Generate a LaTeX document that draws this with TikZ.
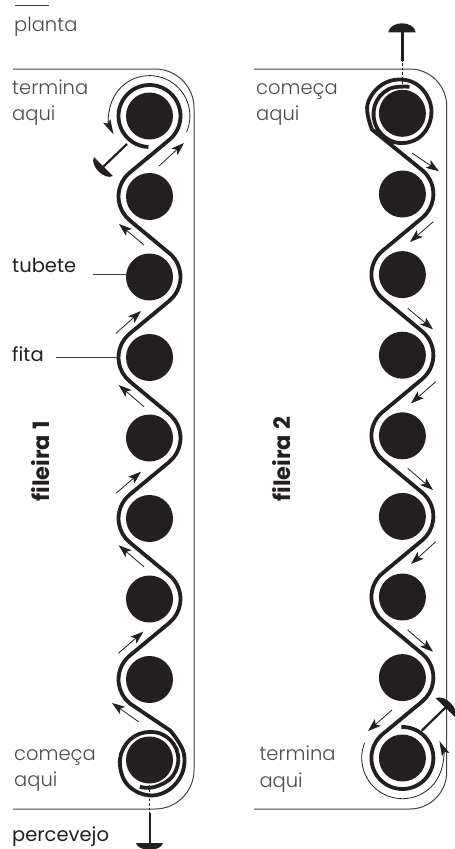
\documentclass[tikz,border=0pt]{standalone}
\usepackage{fontspec}
\setmainfont{Poppins}[UprightFont=* Light,BoldFont=* Bold]
\newfontfamily\regfont{Poppins}
\usetikzlibrary{calc,arrows.meta}
\definecolor{ink}{HTML}{231F20}
\definecolor{txt}{HTML}{4A4A4A}
\tikzset{
 tube/.style={circle,fill=ink,minimum size=47pt,inner sep=0pt},
 ribbon/.style={draw=ink,line width=3.8pt,line join=round},
 frameline/.style={draw=ink!85,line width=1pt},
 flow/.style={draw=ink,line width=0.8pt,-{Stealth[length=13pt,width=9pt,inset=3pt]}},
 turn/.style={draw=ink,line width=0.8pt,-{Stealth[length=15pt,width=8pt,inset=3pt]}},
 shaft/.style={draw=ink,line width=2.2pt},
 guide/.style={draw=ink,line width=0.7pt,dash pattern=on 2.5pt off 2pt},
 leader/.style={draw=ink!85,line width=0.8pt},
 label/.style={anchor=base west,inner sep=0pt,text=txt,font=\fontsize{19.5}{20}\selectfont},
 strong/.style={anchor=base west,inner sep=0pt,text=ink,font=\regfont\fontsize{19.5}{20}\selectfont},
 rowlabel/.style={anchor=base west,inner sep=0pt,rotate=90,text=ink,font=\bfseries\fontsize{22.5}{24}\selectfont},
}
\def\R{31}
\def\Rb#1{-- ($(#1)+(-50.4:\R)$) arc[start angle=-50.4,end angle=50.4,radius=\R]}
\def\Lb#1{-- ($(#1)+(230.4:\R)$) arc[start angle=230.4,end angle=129.6,radius=\R]}
\begin{document}
\begin{tikzpicture}[x=1pt,y=-1pt]
\clip (0,0) rectangle (455,849);
% frames
\draw[frameline] (13,69) -- (155,69) arc[start angle=-90,end angle=0,radius=39] -- (194,770) arc[start angle=0,end angle=90,radius=39] -- (13,809);
\draw[frameline] (254,69) -- (409.7,69) arc[start angle=-90,end angle=0,radius=37] -- (446.7,772) arc[start angle=0,end angle=90,radius=37] -- (254,809);
% tubes
\foreach \n/\y in {1/116,2/196.5,3/277,4/357.5,5/438,6/518.5,7/599,8/679.5,9/760}
  \node[tube] (l\n) at (149.5,\y) {};
\foreach \n/\y in {1/113.3,2/194,3/274.6,4/355.2,5/435.8,6/516.4,7/597,8/677.6,9/758}
  \node[tube] (r\n) at (402.4,\y) {};
% ribbon 1
\draw[ribbon] ($(l1)+(92:\R)$) arc[start angle=92,end angle=410.4,radius=\R]
  \Lb{l2}\Rb{l3}\Lb{l4}\Rb{l5}\Lb{l6}\Rb{l7}\Lb{l8}
  -- plot[smooth,tension=0.68] coordinates {
   ([shift={(l9)}]-55:36) ([shift={(l9)}]-10:35) ([shift={(l9)}]35:35.3)
   ([shift={(l9)}]80:35.7) ([shift={(l9)}]125:33.5) ([shift={(l9)}]170:30) ([shift={(l9)}]215:28.3)
   ([shift={(l9)}]260:28) ([shift={(l9)}]305:28.8) ([shift={(l9)}]350:29) ([shift={(l9)}]395:28.2)
   ([shift={(l9)}]440:27.5) ([shift={(l9)}]470:28.5)};
% ribbon 2
\draw[ribbon] plot[smooth,tension=0.68] coordinates {
   ([shift={(r1)}]-75:27.5) ([shift={(r1)}]-120:27.8) ([shift={(r1)}]-165:28.7) ([shift={(r1)}]-210:29.3)
   ([shift={(r1)}]-255:29.9) ([shift={(r1)}]-300:29.5) ([shift={(r1)}]-345:28.8) ([shift={(r1)}]-390:30)
   ([shift={(r1)}]-435:33) ([shift={(r1)}]-480:35) ([shift={(r1)}]-525:36) ([shift={(r1)}]-568:34.5)}
  \Rb{r2}\Lb{r3}\Rb{r4}\Lb{r5}\Rb{r6}\Lb{r7}\Rb{r8}
  -- ($(r9)+(230.4:\R)$) arc[start angle=230.4,end angle=-92,radius=\R];
% flow arrows, row 1
\draw[flow] (159,166) -- (184,143);
\draw[flow] (144,245) -- (119,224);
\draw[flow] (116,333.3) -- (141,311);
\draw[flow] (144,406.7) -- (118.7,385);
\draw[flow] (116,493.3) -- (141,471.7);
\draw[flow] (144,566.7) -- (118.7,545.3);
\draw[flow] (118.3,653.3) -- (143.3,631.7);
\draw[flow] (139,722) -- (112,703);
% flow arrows, row 2
\draw[flow] (412,153) -- (439,171.3);
\draw[flow] (433.3,221.7) -- (410,242);
\draw[flow] (407.7,308.3) -- (433,329.3);
\draw[flow] (435.7,381.7) -- (411,403.3);
\draw[flow] (407.7,468.3) -- (433,490);
\draw[flow] (435.7,541.7) -- (411,564);
\draw[flow] (407.7,630) -- (433,651.7);
\draw[flow] (392,710) -- (368,731);
% turning arrows
\draw[turn] ($(l1)+(23.5:40.4)$) arc[start angle=23.5,end angle=-207,radius=40.4];
\draw[turn] ($(r9)+(202:40.7)$) arc[start angle=202,end angle=-24.7,radius=40.7];
% pins
\draw[shaft] (127,144) -- (103.5,166.5);
\fill[ink] (94,157) .. controls (89.4,165.6) and (104.4,180.6) .. (113,176) -- cycle;
\draw[shaft] (421.7,730.7) -- (445.5,707.5);
\fill[ink] (435.7,698.3) .. controls (444.3,693.7) and (459.6,708.4) .. (455,717) -- cycle;
\draw[guide] (149.8,785) -- (149.8,813);
\draw[shaft] (149.8,813) -- (149.8,843);
\fill[ink] (136,843) .. controls (138,852) and (161,852) .. (163,843) -- cycle;
\draw[guide] (402.4,88) -- (402.4,60.7);
\draw[shaft] (402.4,60.7) -- (402.4,32.3);
\fill[ink] (388.3,32.3) .. controls (390,20.3) and (414,20.3) .. (415.7,32.3) -- cycle;
% labels
\draw[leader] (15,5.7) -- (49,5.7);
\node[label] (planta) at (14,31.7) {planta};
\node[label] (t1) at (12,94) {termina};
\node[label] (t2) at (12,120) {aqui};
\node[strong] (tub) at (12,272) {tubete};
\node[strong] (fit) at (12,361.7) {fita};
\node[label] (c1) at (14,760) {começa};
\node[label] (c2) at (14,786.7) {aqui};
\node[strong] (per) at (12,841.7) {percevejo};
\node[label] (c3) at (256,94) {começa};
\node[label] (c4) at (256,120) {aqui};
\node[label] (t3) at (259.3,760) {termina};
\node[label] (t4) at (259.3,787) {aqui};
\node[rowlabel] (f1) at (49,501.7) {fileira 1};
\node[rowlabel] (f2) at (290,501.7) {fileira 2};
\coordinate (tubleader) at (93,274);
\coordinate (fitleader) at (55.5,357.7);
\draw[leader] (tubleader) -- (l3.west |- tubleader);
\draw[leader] (fitleader) -- (116.5,357.7);
\end{tikzpicture}
\end{document}
